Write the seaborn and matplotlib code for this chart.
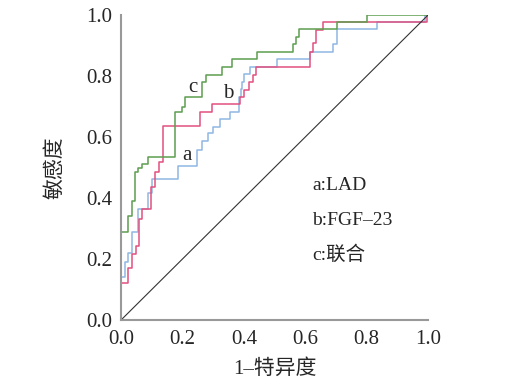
import numpy as np
import pandas as pd
import matplotlib
matplotlib.use('Agg')
import matplotlib.pyplot as plt
import seaborn as sns
from matplotlib.ticker import MultipleLocator

# ROC step vertices (1-specificity, sensitivity)
fpr_a = [0, 0, 0.013, 0.024, 0.035, 0.056, 0.089, 0.10, 0.187, 0.246, 0.265, 0.282,
         0.30, 0.322, 0.355, 0.384, 0.39, 0.395, 0.40, 0.42, 0.507, 0.616, 0.69,
         0.703, 0.835, 0.99, 1.0]
tpr_a = [0, 0.142, 0.191, 0.219, 0.29, 0.363, 0.415, 0.461, 0.505, 0.557, 0.587, 0.612,
         0.634, 0.659, 0.683, 0.732, 0.756, 0.78, 0.807, 0.83, 0.856, 0.88, 0.904,
         0.953, 0.976, 1.0, 1.0]

fpr_b = [0, 0, 0.024, 0.035, 0.048, 0.059, 0.068, 0.098, 0.11, 0.124, 0.138, 0.256,
         0.297, 0.388, 0.40, 0.418, 0.43, 0.441, 0.616, 0.625, 0.635, 0.659, 0.998, 1.0]
tpr_b = [0, 0.12, 0.17, 0.217, 0.242, 0.33, 0.363, 0.437, 0.486, 0.519, 0.636, 0.683,
         0.707, 0.732, 0.754, 0.78, 0.803, 0.83, 0.88, 0.907, 0.95, 0.976, 1.0, 1.0]

fpr_c = [0, 0, 0.024, 0.035, 0.046, 0.056, 0.068, 0.089, 0.176, 0.198, 0.209, 0.265,
         0.276, 0.33, 0.363, 0.442, 0.561, 0.57, 0.581, 0.703, 0.80, 1.0]
tpr_c = [0, 0.29, 0.34, 0.39, 0.486, 0.50, 0.51, 0.535, 0.683, 0.70, 0.732, 0.78,
         0.805, 0.83, 0.856, 0.88, 0.904, 0.927, 0.953, 0.976, 1.0, 1.0]

legend_lines = ['a:LAD', 'b:FGF\u201323', 'c:联合']

sns.set_style('white')
plt.rcParams['font.family'] = ['Liberation Serif', 'Noto Sans CJK SC']

fig = plt.figure(figsize=(5.23, 3.81), dpi=100)
ax = fig.add_axes([0.2314, 0.160, 0.587, 0.8005])

curves = [(fpr_a, tpr_a, '#8fb8e3'), (fpr_b, tpr_b, '#e2507e'), (fpr_c, tpr_c, '#5c9e50')]
for fpr, tpr, col in curves:
    df = pd.DataFrame({'fpr': fpr, 'tpr': tpr})
    sns.lineplot(data=df, x='fpr', y='tpr', ax=ax, sort=False, estimator=None,
                 drawstyle='steps-post', color=col, linewidth=1.1)

ax.plot([0, 1], [0, 1], color='#333333', linewidth=0.8)

ax.text(0.235, 0.764, 'c', fontsize=15, ha='center', va='center')
ax.text(0.349, 0.744, 'b', fontsize=15, ha='center', va='center')
ax.text(0.215, 0.54, 'a', fontsize=15, ha='center', va='center')

for i, s in enumerate(legend_lines):
    ax.text(0.622, 0.44 - i * 0.113, s, fontsize=14, ha='left', va='center')

ax.set_xlim(0, 1.0)
ax.set_ylim(0, 1.0)
ax.xaxis.set_major_locator(MultipleLocator(0.2))
ax.yaxis.set_major_locator(MultipleLocator(0.2))
ax.xaxis.set_minor_locator(MultipleLocator(0.05))
ax.yaxis.set_minor_locator(MultipleLocator(0.05))
ax.set_xticklabels([f'{v:.1f}' for v in ax.get_xticks()])
ax.set_yticklabels([f'{v:.1f}' for v in ax.get_yticks()])
ax.tick_params(which='major', direction='inout', length=5, width=1, color='#777777',
               labelsize=15)
ax.tick_params(which='minor', direction='in', length=3, width=1, color='#777777')
ax.tick_params(axis='x', which='major', pad=5)
ax.tick_params(axis='y', which='major', pad=4)

for side in ['top', 'right']:
    ax.spines[side].set_visible(False)
for side in ['left', 'bottom']:
    ax.spines[side].set_color('#999999')
    ax.spines[side].set_linewidth(1.5)

ax.set_xlabel('1\u2013特异度', fontsize=15, labelpad=7)
ax.set_ylabel('敏感度', fontsize=15, labelpad=15)

fig.savefig('out.png', dpi=100)
